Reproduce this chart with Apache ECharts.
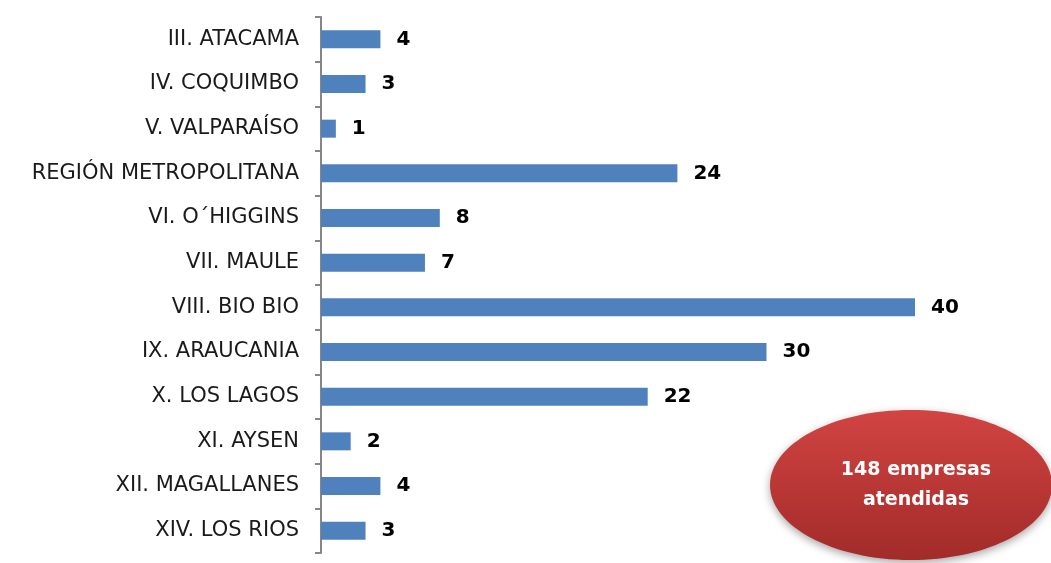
<!DOCTYPE html>
<html>
<head>
<meta charset="utf-8">
<script src="https://cdn.jsdelivr.net/npm/echarts@6/dist/echarts.min.js"></script>
<style>
  html, body { margin: 0; padding: 0; background: #fff; }
  #main { width: 1051px; height: 563px; }
</style>
</head>
<body>
<div id="main"></div>
<script>
// regiones (de arriba hacia abajo)
var regiones = ['III. ATACAMA', 'IV. COQUIMBO', 'V. VALPARAÍSO', 'REGIÓN METROPOLITANA',
  'VI. O´HIGGINS', 'VII. MAULE', 'VIII. BIO BIO', 'IX. ARAUCANIA', 'X. LOS LAGOS',
  'XI. AYSEN', 'XII. MAGALLANES', 'XIV. LOS RIOS'];
var empresas = [4, 3, 1, 24, 8, 7, 40, 30, 22, 2, 4, 3];
var totalTexto = '148 empresas\natendidas';

var chart = echarts.init(document.getElementById('main'));

var option = {
  animation: false,
  grid: { left: 321, top: 17, width: 594, height: 536, containLabel: false },
  xAxis: {
    type: 'value',
    min: 0,
    max: 40,
    show: false
  },
  yAxis: {
    type: 'category',
    data: regiones,
    inverse: true,
    axisLine: { show: true, lineStyle: { color: '#868686', width: 2 } },
    axisTick: { show: true, length: 6, alignWithLabel: false, lineStyle: { color: '#868686', width: 2 } },
    axisLabel: {
      margin: 22,
      color: '#1a1a1a',
      fontFamily: '"DejaVu Sans", sans-serif',
      fontSize: 21
    }
  },
  series: [{
    type: 'bar',
    data: empresas,
    barWidth: 18,
    itemStyle: { color: '#4F81BD' },
    label: {
      show: true,
      position: 'right',
      distance: 16,
      color: '#000',
      fontWeight: 'bold',
      fontFamily: '"DejaVu Sans", sans-serif',
      fontSize: 20
    }
  }],
  graphic: [{
    type: 'ellipse',
    shape: { cx: 911, cy: 485, rx: 141, ry: 75 },
    style: {
      fill: new echarts.graphic.LinearGradient(0, 0, 0, 1, [
        { offset: 0, color: '#D14442' },
        { offset: 1, color: '#A22B29' }
      ]),
      shadowBlur: 8,
      shadowColor: 'rgba(0,0,0,0.35)',
      shadowOffsetY: 3
    },
    z: 10
  }, {
    type: 'text',
    x: 916,
    y: 485,
    style: {
      text: totalTexto,
      fill: '#fff',
      font: 'bold 19px "DejaVu Sans", sans-serif',
      align: 'center',
      verticalAlign: 'middle',
      lineHeight: 30
    },
    z: 11
  }]
};

chart.setOption(option);
</script>
</body>
</html>
